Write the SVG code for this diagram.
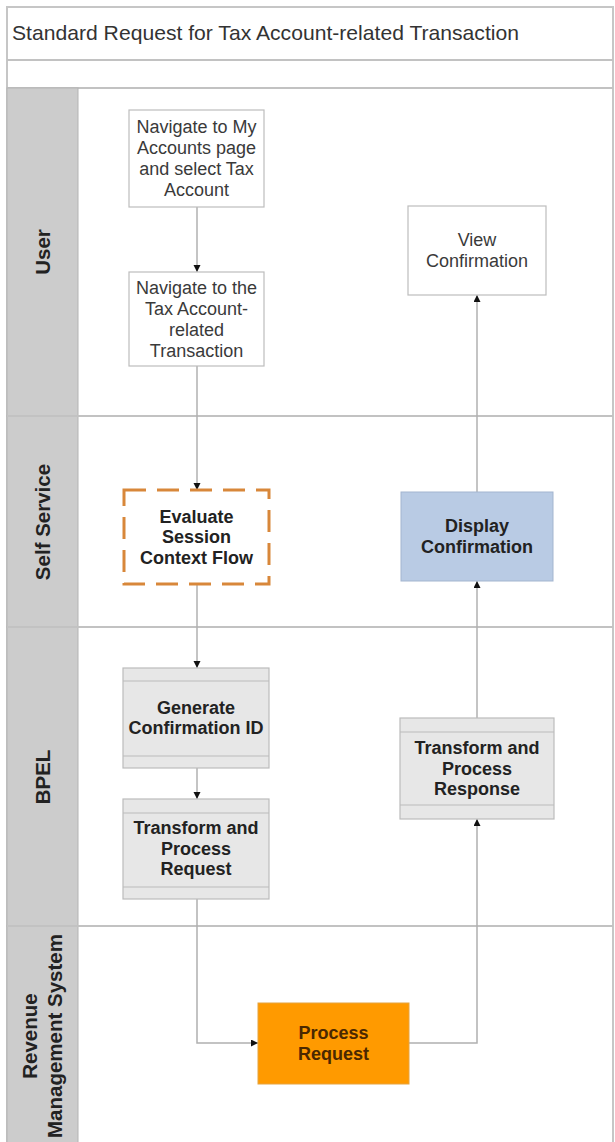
<svg xmlns="http://www.w3.org/2000/svg" width="615" height="1142" viewBox="0 0 615 1142">
  <style>
    .frame { fill: none; stroke: #c6c6c6; stroke-width: 2; }
    .sep { stroke: #c2c2c2; stroke-width: 2; }
    .hdr { fill: #cccccc; stroke: #b4b4b4; stroke-width: 1; }
    .hdr-text { font-family: "Liberation Sans", Arial, sans-serif; font-size: 20.5px; font-weight: bold; fill: #222; text-anchor: middle; }
    .title { font-family: "Liberation Sans", Arial, sans-serif; font-size: 21px; fill: #333; }
    .plain { fill: #ffffff; stroke: #bdbdbd; stroke-width: 1.2; }
    .txt { font-family: "Liberation Sans", Arial, sans-serif; font-size: 18px; fill: #3a3a3a; text-anchor: middle; }
    .btxt { font-family: "Liberation Sans", Arial, sans-serif; font-size: 18px; font-weight: bold; fill: #222; text-anchor: middle; }
    .dashed { fill: #ffffff; stroke: #d8873a; stroke-width: 3; stroke-dasharray: 22 11; }
    .blue { fill: #b9cbe4; stroke: #a3b5cf; stroke-width: 1; }
    .bpel { fill: #e7e7e7; stroke: #bcbcbc; stroke-width: 1.2; }
    .band { stroke: #bcbcbc; stroke-width: 1.2; }
    .orange { fill: #ff9a00; stroke: #e6a33f; stroke-width: 1; }
    .otxt { font-family: "Liberation Sans", Arial, sans-serif; font-size: 18px; font-weight: bold; fill: #4a2800; text-anchor: middle; }
    .conn { fill: none; stroke: #b0b0b0; stroke-width: 1.5; marker-end: url(#arrow); }
  </style>
  <defs>
    <marker id="arrow" markerUnits="userSpaceOnUse" markerWidth="8" markerHeight="8" refX="7" refY="3.5" orient="auto">
      <path d="M0,0 L7,3.5 L0,7 z" fill="#111"/>
    </marker>
  </defs>

  <rect x="0" y="0" width="615" height="1142" fill="#ffffff"/>

  <!-- pool frame and title rows -->
  <g id="pool">
    <rect class="frame" x="7" y="7" width="606" height="1145"/>
    <line class="sep" x1="7" y1="60" x2="613" y2="60"/>
    <line class="sep" x1="7" y1="88" x2="613" y2="88"/>
    <text class="title" x="12" y="40" textLength="507" lengthAdjust="spacingAndGlyphs">Standard Request for Tax Account-related Transaction</text>
  </g>

  <!-- swimlanes -->
  <g id="lane-user">
    <rect class="hdr" x="7" y="88" width="71" height="328"/>
    <text class="hdr-text" transform="translate(50,252) rotate(-90)">User</text>
  </g>
  <g id="lane-self-service">
    <rect class="hdr" x="7" y="416" width="71" height="211"/>
    <text class="hdr-text" transform="translate(50,522) rotate(-90)">Self Service</text>
  </g>
  <g id="lane-bpel">
    <rect class="hdr" x="7" y="627" width="71" height="299"/>
    <text class="hdr-text" transform="translate(50,777) rotate(-90)">BPEL</text>
  </g>
  <g id="lane-rms">
    <rect class="hdr" x="7" y="926" width="71" height="226"/>
    <text class="hdr-text" transform="translate(37,1036) rotate(-90)">Revenue</text>
    <text class="hdr-text" transform="translate(62,1036) rotate(-90)">Management System</text>
  </g>
  <g id="lane-lines">
    <line class="sep" x1="7" y1="416" x2="613" y2="416"/>
    <line class="sep" x1="7" y1="627" x2="613" y2="627"/>
    <line class="sep" x1="7" y1="926" x2="613" y2="926"/>
  </g>

  <!-- connectors -->
  <g id="connectors">
    <path class="conn" d="M197,207 V272"/>
    <path class="conn" d="M197,366 V490"/>
    <path class="conn" d="M197,584 V668"/>
    <path class="conn" d="M197,768 V799"/>
    <path class="conn" d="M197,899 V1043 H258"/>
    <path class="conn" d="M409,1043 H477 V819"/>
    <path class="conn" d="M477,718 V581"/>
    <path class="conn" d="M477,492 V295"/>
  </g>

  <!-- nodes -->
  <g id="navigate-accounts">
    <rect class="plain" x="129" y="110" width="135" height="97"/>
    <text class="txt" x="196.5" y="133.3">Navigate to My</text>
    <text class="txt" x="196.5" y="154.3">Accounts page</text>
    <text class="txt" x="196.5" y="175.3">and select Tax</text>
    <text class="txt" x="196.5" y="196.3">Account</text>
  </g>

  <g id="navigate-transaction">
    <rect class="plain" x="129" y="272" width="135" height="94"/>
    <text class="txt" x="196.5" y="294">Navigate to the</text>
    <text class="txt" x="196.5" y="315">Tax Account-</text>
    <text class="txt" x="196.5" y="336">related</text>
    <text class="txt" x="196.5" y="357">Transaction</text>
  </g>

  <g id="view-confirmation">
    <rect class="plain" x="408" y="206" width="138" height="89"/>
    <text class="txt" x="477" y="246.3">View</text>
    <text class="txt" x="477" y="267.3">Confirmation</text>
  </g>

  <g id="evaluate-session">
    <rect class="dashed" x="124" y="490" width="145" height="94"/>
    <text class="btxt" x="196.5" y="522.8">Evaluate</text>
    <text class="btxt" x="196.5" y="543.3">Session</text>
    <text class="btxt" x="196.5" y="563.8">Context Flow</text>
  </g>

  <g id="display-confirmation">
    <rect class="blue" x="401" y="492" width="152" height="89"/>
    <text class="btxt" x="477" y="532.3" fill="#1e2a3a">Display</text>
    <text class="btxt" x="477" y="552.8" fill="#1e2a3a">Confirmation</text>
  </g>

  <g id="generate-confirmation-id">
    <rect class="bpel" x="123" y="668" width="146" height="100"/>
    <line class="band" x1="123" y1="681" x2="269" y2="681"/>
    <line class="band" x1="123" y1="756" x2="269" y2="756"/>
    <text class="btxt" x="196" y="713.8">Generate</text>
    <text class="btxt" x="196" y="734.3">Confirmation ID</text>
  </g>

  <g id="transform-request">
    <rect class="bpel" x="123" y="799" width="146" height="100"/>
    <line class="band" x1="123" y1="813" x2="269" y2="813"/>
    <line class="band" x1="123" y1="887" x2="269" y2="887"/>
    <text class="btxt" x="196" y="834">Transform and</text>
    <text class="btxt" x="196" y="854.5">Process</text>
    <text class="btxt" x="196" y="875">Request</text>
  </g>

  <g id="transform-response">
    <rect class="bpel" x="400" y="718" width="154" height="101"/>
    <line class="band" x1="400" y1="732" x2="554" y2="732"/>
    <line class="band" x1="400" y1="805" x2="554" y2="805"/>
    <text class="btxt" x="477" y="754.3">Transform and</text>
    <text class="btxt" x="477" y="774.8">Process</text>
    <text class="btxt" x="477" y="795.3">Response</text>
  </g>

  <g id="process-request">
    <rect class="orange" x="258" y="1003" width="151" height="81"/>
    <text class="otxt" x="333.5" y="1039.3">Process</text>
    <text class="otxt" x="333.5" y="1059.8">Request</text>
  </g>
</svg>
